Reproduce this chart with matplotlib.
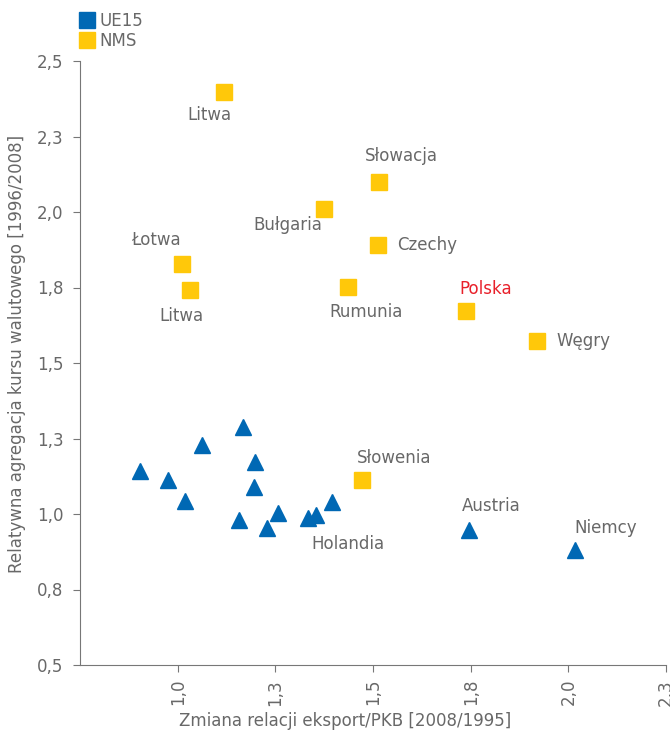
import matplotlib.pyplot as plt
from matplotlib.lines import Line2D

plt.rcParams['font.family'] = ['DejaVu Sans']

# Dane: nowe kraje czlonkowskie (NMS)
nms_nazwy = ['Litwa', 'Słowacja', 'Bułgaria', 'Czechy', 'Łotwa', 'Litwa',
             'Rumunia', 'Polska', 'Węgry', 'Słowenia']
nms_x = [1.118, 1.515, 1.374, 1.513, 1.011, 1.031, 1.436, 1.738, 1.919, 1.472]
nms_y = [2.399, 2.098, 2.011, 1.891, 1.828, 1.742, 1.752, 1.672, 1.572, 1.111]

# Dane: UE15
ue_nazwy = ['', '', '', '', '', '', '', '', '', '', 'Holandia', '', '',
            'Austria', 'Niemcy']
ue_x = [0.904, 0.974, 1.019, 1.063, 1.168, 1.197, 1.195, 1.157, 1.257, 1.229,
        1.334, 1.354, 1.396, 1.745, 2.017]
ue_y = [1.142, 1.114, 1.044, 1.230, 1.289, 1.172, 1.090, 0.981, 1.004, 0.952,
        0.987, 0.998, 1.040, 0.948, 0.880]

# Osie
x_ticks = [1.0, 1.25, 1.5, 1.75, 2.0, 2.25]
x_labels = ['1,0', '1,3', '1,5', '1,8', '2,0', '2,3']
y_ticks = [0.5, 0.75, 1.0, 1.25, 1.5, 1.75, 2.0, 2.25, 2.5]
y_labels = ['0,5', '0,8', '1,0', '1,3', '1,5', '1,8', '2,0', '2,3', '2,5']

niebieski = '#0068b4'
zolty = '#ffc80a'
szary = '#686868'
fs = 12

# przesuniecia etykiet (punkty) i wyrownanie
off_nms = {0: (-10, -17, 'center'), 1: (16, 19, 'center'), 2: (-26, -12, 'center'),
           3: (14, 0, 'left'), 4: (-19, 17, 'center'), 5: (-6, -19, 'center'),
           6: (13, -18, 'center'), 7: (14, 16, 'center'), 8: (14, 0, 'left'),
           9: (23, 16, 'center')}
off_ue = {10: (29, -19, 'center'), 13: (16, 17, 'center'), 14: (22, 16, 'center')}

fig = plt.figure(figsize=(6.7, 7.31), dpi=100)
ax = fig.add_axes([80/670, 66/731, 586/670, 604/731])

ax.plot(ue_x, ue_y, '^', color=niebieski, markersize=12.2, ls='')
ax.plot(nms_x, nms_y, 's', color=zolty, markersize=11.5, ls='')

for i, (dx, dy, ha) in off_nms.items():
    kol = '#e8202a' if nms_nazwy[i] == 'Polska' else szary
    ax.annotate(nms_nazwy[i], (nms_x[i], nms_y[i]), xytext=(dx, dy),
                textcoords='offset points', ha=ha, va='center',
                fontsize=fs, color=kol)
for i, (dx, dy, ha) in off_ue.items():
    ax.annotate(ue_nazwy[i], (ue_x[i], ue_y[i]), xytext=(dx, dy),
                textcoords='offset points', ha=ha, va='center',
                fontsize=fs, color=szary)

ax.set_xlim(0.75, 2.25)
ax.set_ylim(0.5, 2.5)
ax.set_xticks(x_ticks)
ax.set_xticklabels(x_labels, rotation=90)
ax.set_yticks(y_ticks)
ax.set_yticklabels(y_labels)
ax.tick_params(colors='#777777', labelcolor=szary, labelsize=fs, length=5,
               direction='out')
ax.tick_params(axis='y', pad=7)
ax.tick_params(axis='x', pad=5)
for s in ['top', 'right']:
    ax.spines[s].set_visible(False)
for s in ['left', 'bottom']:
    ax.spines[s].set_color('#777777')

ax.set_xlabel('Zmiana relacji eksport/PKB [2008/1995]', fontsize=fs, color=szary)
ax.xaxis.set_label_coords(0.452, -0.077)
ax.set_ylabel('Relatywna agregacja kursu walutowego [1996/2008]', fontsize=fs,
              color=szary)
ax.yaxis.set_label_coords(-0.092, 0.515)

uchwyty = [Line2D([], [], marker='s', ls='', color=niebieski, markersize=11.5),
           Line2D([], [], marker='s', ls='', color=zolty, markersize=11.5)]
fig.legend(uchwyty, ['UE15', 'NMS'], loc='upper left',
           bbox_to_anchor=(80/670, 1 - 12/731), frameon=False, fontsize=fs,
           handlelength=0.8, handletextpad=0.35, labelspacing=0.1,
           borderpad=0, borderaxespad=0, labelcolor=szary)

plt.savefig('out.png')
